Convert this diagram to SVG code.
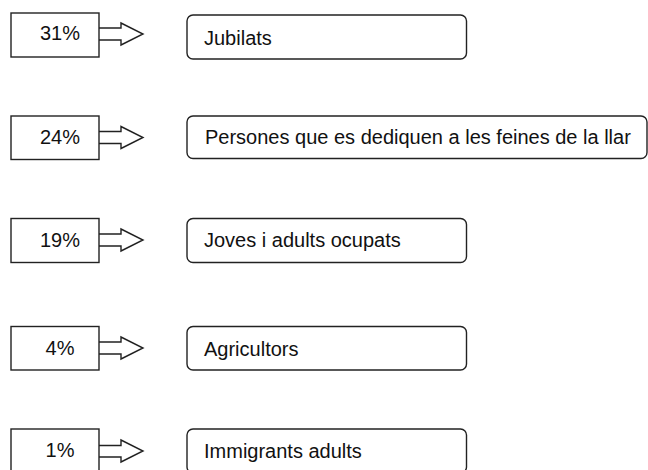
<svg xmlns="http://www.w3.org/2000/svg" width="648" height="470" viewBox="0 0 648 470">
<style>
.box{fill:#fff;stroke:#222;stroke-width:1.4}
.lbl{fill:#fff;stroke:#222;stroke-width:1.4}
.arr{fill:#fff;stroke:#222;stroke-width:1.4;stroke-linejoin:miter}
text{font-family:"Liberation Sans",Arial,sans-serif;font-size:20px;fill:#111}
.pct{text-anchor:middle}
</style>
<rect width="648" height="470" fill="#fff"/>
<g id="connectors">
<path class="arr" d="M99,28 H121 V23 L143,34 L121,45 V40 H99"/>
<path class="arr" d="M99,131.5 H121 V126.5 L143,137.5 L121,148.5 V143.5 H99"/>
<path class="arr" d="M99,234 H121 V229 L143,240 L121,251 V246 H99"/>
<path class="arr" d="M99,342 H121 V337 L143,348 L121,359 V354 H99"/>
<path class="arr" d="M99,445.5 H121 V440 L143,451 L121,462 V457 H99"/>
</g>
<g id="p31"><rect class="box" x="11" y="13" width="88" height="44"/><text class="pct" x="60" y="39.5">31%</text></g>
<g id="p24"><rect class="box" x="11" y="116" width="88" height="43.5"/><text class="pct" x="60" y="144">24%</text></g>
<g id="p19"><rect class="box" x="11" y="218.5" width="88" height="44"/><text class="pct" x="60" y="246.5">19%</text></g>
<g id="p4"><rect class="box" x="11" y="326.5" width="88" height="43.5"/><text class="pct" x="60" y="354.5">4%</text></g>
<g id="p1"><rect class="box" x="11" y="429" width="88" height="44"/><text class="pct" x="60" y="457">1%</text></g>
<g id="jubilats"><rect class="lbl" x="187" y="15" width="279.5" height="44" rx="6"/><text x="204" y="45">Jubilats</text></g>
<g id="persones"><rect class="lbl" x="187" y="116" width="460" height="42.5" rx="6"/><text x="205" y="144">Persones que es dediquen a les feines de la llar</text></g>
<g id="joves"><rect class="lbl" x="187" y="218.5" width="279.5" height="44" rx="6"/><text x="204" y="247">Joves i adults ocupats</text></g>
<g id="agricultors"><rect class="lbl" x="187" y="326.5" width="279.5" height="43.5" rx="6"/><text x="204" y="355.5">Agricultors</text></g>
<g id="immigrants"><rect class="lbl" x="187" y="429" width="279.5" height="44" rx="6"/><text x="204" y="458">Immigrants adults</text></g>
</svg>
